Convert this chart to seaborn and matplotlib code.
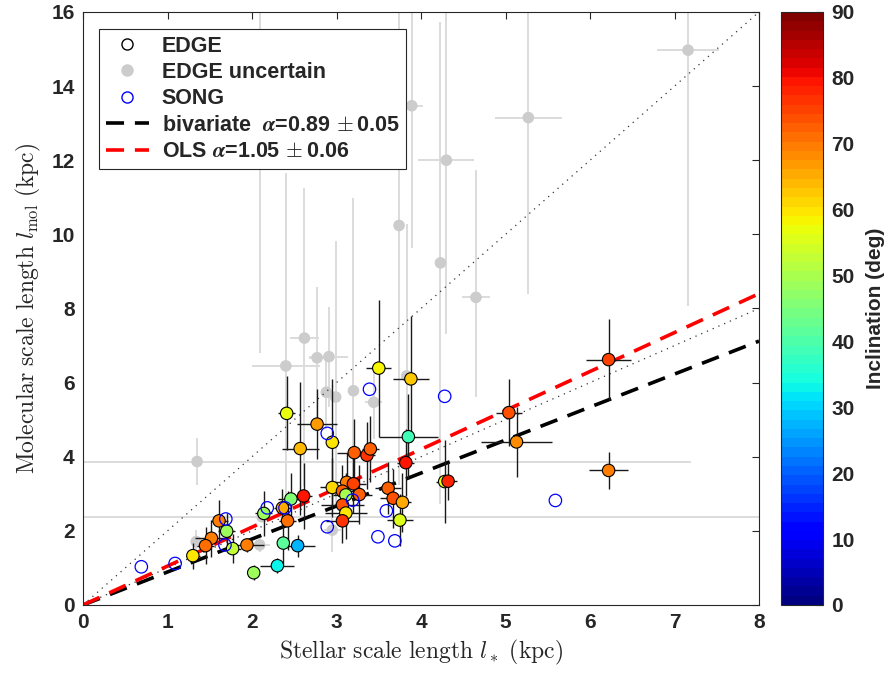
import numpy as np
import pandas as pd
import matplotlib
matplotlib.use('Agg')
import matplotlib.pyplot as plt
import seaborn as sns
from matplotlib.lines import Line2D

### data ###
# EDGE galaxies (colour = inclination)
edge_x = [2.41, 2.77, 2.57, 3.50, 3.88, 2.95, 3.85, 3.21, 3.36, 3.40, 3.82, 3.12,
          3.20, 2.95, 3.07, 3.11, 3.27, 2.61, 2.46, 2.36, 3.07, 3.11, 3.07, 2.42,
          2.14, 3.61, 3.67, 3.78, 3.75, 1.61, 1.70, 1.52, 1.45, 1.77, 1.94, 1.30,
          2.37, 2.54, 2.30, 2.02, 6.22, 5.04, 5.13, 4.28, 4.32, 6.22]
edge_y = [5.17, 4.88, 4.22, 6.39, 6.10, 4.39, 4.54, 4.11, 4.04, 4.21, 3.84, 3.31,
          3.27, 3.17, 3.07, 2.97, 2.98, 2.94, 2.86, 2.62, 2.70, 2.48, 2.27, 2.27,
          2.47, 3.15, 2.88, 2.77, 2.29, 2.27, 1.99, 1.80, 1.60, 1.52, 1.62, 1.33,
          1.67, 1.60, 1.06, 0.87, 6.62, 5.19, 4.40, 3.33, 3.34, 3.63]
edge_xerr = [0.10, 0.24, 0.22, 0.15, 0.21, 0.08, 0.35, 0.20, 0.10, 0.10, 0.10, 0.15,
             0.15, 0.15, 0.15, 0.15, 0.15, 0.10, 0.15, 0.10, 0.25, 0.25, 0.20, 0.10,
             0.10, 0.15, 0.15, 0.10, 0.15, 0.10, 0.10, 0.20, 0.10, 0.10, 0.20, 0.08,
             0.05, 0.20, 0.20, 0.05, 0.27, 0.15, 0.42, 0.10, 0.10, 0.23]
edge_yerr = [1.00, 0.95, 1.80, 1.85, 1.70, 1.70, 1.15, 0.90, 0.90, 0.90, 0.90, 0.80,
             0.80, 0.80, 0.70, 0.60, 0.80, 0.90, 0.70, 0.50, 0.60, 0.70, 0.60, 0.80,
             0.60, 0.70, 0.80, 0.80, 0.70, 0.55, 0.50, 0.50, 0.50, 0.40, 0.20, 0.35,
             0.60, 0.30, 0.20, 0.20, 1.10, 0.90, 0.95, 1.12, 0.52, 0.50]
edge_incl = [57, 67, 64, 59, 63, 60, 38, 72, 77, 73, 79, 69,
             75, 61, 72, 50, 73, 79, 45, 65, 74, 60, 77, 71,
             49, 72, 74, 66, 56, 70, 48, 70, 71, 53, 69, 60,
             42, 28, 33, 49, 75, 74, 68, 57, 78, 70]

# EDGE uncertain (grey), asymmetric vertical errors
unc_x = [7.16, 3.89, 5.27, 4.30, 3.74, 4.23, 4.65, 2.09, 2.40, 2.62, 2.77, 2.91,
         2.88, 2.99, 3.20, 3.44, 3.83, 1.35, 1.34, 2.09, 2.95, 2.12]
unc_y = [14.97, 13.47, 13.15, 12.00, 10.24, 9.23, 8.30, 13.60, 6.45, 7.20, 6.67, 6.70,
         5.74, 5.61, 5.78, 5.47, 6.18, 3.87, 1.71, 1.62, 2.02, 2.38]
unc_xerr = [0.37, 0.13, 0.40, 0.33, 0.00, 0.00, 0.17, 0.00, 0.40, 0.17, 0.10, 0.23,
            0.05, 0.05, 0.05, 0.10, 0.05, 5.85, 0.05, 0.12, 0.10, 6.10]
unc_ylo = [6.90, 3.85, 4.77, 4.70, 7.00, 6.50, 2.70, 6.80, 4.15, 4.00, 1.90, 1.35,
           1.00, 3.00, 2.50, 1.00, 2.50, 0.63, 0.30, 0.20, 0.60, 0.10]
unc_yhi = [6.90, 3.85, 4.77, 4.70, 7.00, 6.50, 3.43, 6.80, 5.20, 4.05, 1.90, 1.35,
           1.00, 4.20, 5.20, 1.00, 4.10, 0.63, 0.30, 0.20, 0.60, 0.10]

# SONG galaxies
song_x = [0.69, 1.09, 1.69, 1.68, 2.18, 2.39, 2.89, 3.39, 3.19, 2.89, 3.59, 3.49,
          3.69, 4.28, 5.59]
song_y = [1.03, 1.12, 2.32, 1.62, 2.62, 2.62, 4.63, 5.82, 2.83, 2.11, 2.54, 1.84,
          1.73, 5.63, 2.82]

# fits
slope_biv = 0.89
slope_ols = 1.05
ref_slopes = [1.0, 2.0]

edge = pd.DataFrame({'lstar': edge_x, 'lmol': edge_y, 'incl': edge_incl})

### style ###
sns.set_style('white')
plt.rcParams['font.family'] = ['Liberation Sans', 'DejaVu Sans']
plt.rcParams['font.weight'] = 'bold'
plt.rcParams['mathtext.fontset'] = 'cm'
plt.rcParams['axes.edgecolor'] = '0.15'
plt.rcParams['axes.linewidth'] = 0.8

jet = plt.get_cmap('jet', 64)
norm = matplotlib.colors.Normalize(0, 90)

fig = plt.figure(figsize=(8.86, 6.77), dpi=100)
ax = fig.add_axes([0.0937, 0.1064, 0.7630, 0.8759])
cax = fig.add_axes([0.8815, 0.1064, 0.0474, 0.8759])

# grey (uncertain) points
ax.errorbar(unc_x, unc_y, xerr=unc_xerr, yerr=[unc_ylo, unc_yhi], fmt='none',
            ecolor='#dcdcdc', elinewidth=1.4, capsize=0, zorder=1)
ax.scatter(unc_x, unc_y, s=70, color='#cccccc', edgecolor='none', zorder=1.5)

# reference and fit lines
xl = np.array([0, 8])
for sl in ref_slopes:
    ax.plot(xl, sl * xl, color='0.2', lw=0.9, ls=(0, (1, 4)), zorder=2)
ax.plot(xl, slope_biv * xl, color='k', lw=2.6, dashes=(5, 3), zorder=2.5,
        label=r'bivariate  $\boldsymbol{\alpha}$=0.89$\,\pm$0.05')
ax.plot(xl, slope_ols * xl, color='red', lw=2.6, dashes=(5, 3), zorder=2.5,
        label=r'OLS $\boldsymbol{\alpha}$=1.05$\,\pm$0.06')

# EDGE points with error bars
ax.errorbar(edge_x, edge_y, xerr=edge_xerr, yerr=edge_yerr, fmt='none',
            ecolor='0.1', elinewidth=1.0, capsize=0, zorder=3)
sns.scatterplot(data=edge, x='lstar', y='lmol', hue='incl', palette=jet,
                hue_norm=(0, 90), s=80, edgecolor='k', linewidth=0.8,
                legend=False, ax=ax, zorder=4)

# SONG
ax.scatter(song_x, song_y, s=80, facecolor='none', edgecolor='blue',
           linewidth=0.9, zorder=5)

ax.set_xlim(0, 8)
ax.set_ylim(0, 16)
ax.set_xticks(range(0, 9))
ax.set_yticks(range(0, 17, 2))
ax.tick_params(direction='in', top=True, right=True, length=5, width=0.8,
               labelsize=15, colors='0.15', labelcolor='0.15', pad=6)
ax.set_xlabel(r'$\mathrm{Stellar\ scale\ length\ }l_*\mathrm{\ (kpc)}$',
              fontsize=17, color='0.15', labelpad=4)
ax.set_ylabel(r'$\mathrm{Molecular\ scale\ length\ }l_{\mathrm{mol}}\mathrm{\ (kpc)}$',
              fontsize=17, color='0.15', labelpad=6)

handles = [Line2D([], [], ls='none', marker='o', mfc='none', mec='k', ms=8),
           Line2D([], [], ls='none', marker='o', mfc='#cccccc', mec='none', ms=9),
           Line2D([], [], ls='none', marker='o', mfc='none', mec='blue', ms=8)]
h_lines, l_lines = ax.get_legend_handles_labels()
leg = ax.legend(handles + h_lines, ['EDGE', 'EDGE uncertain', 'SONG'] + l_lines,
                loc='upper left', bbox_to_anchor=(0.024, 0.971), fontsize=15.5,
                frameon=True, fancybox=False, framealpha=1, edgecolor='0.15',
                borderpad=0.3, handlelength=2.0, handletextpad=0.6,
                labelspacing=0.25, borderaxespad=0)
leg.get_frame().set_linewidth(0.8)
leg.set_zorder(10)

# colorbar
sm = matplotlib.cm.ScalarMappable(norm=norm, cmap=jet)
cb = fig.colorbar(sm, cax=cax, ticks=range(0, 91, 10))
cb.outline.set_edgecolor('0.15')
cb.outline.set_linewidth(0.8)
cax.tick_params(direction='in', length=5, width=0.8, labelsize=15,
                colors='0.15', pad=6)
cb.set_label('Inclination (deg)', fontsize=15, fontweight='bold', color='0.15',
             labelpad=8)

fig.savefig('out.png', dpi=100)
